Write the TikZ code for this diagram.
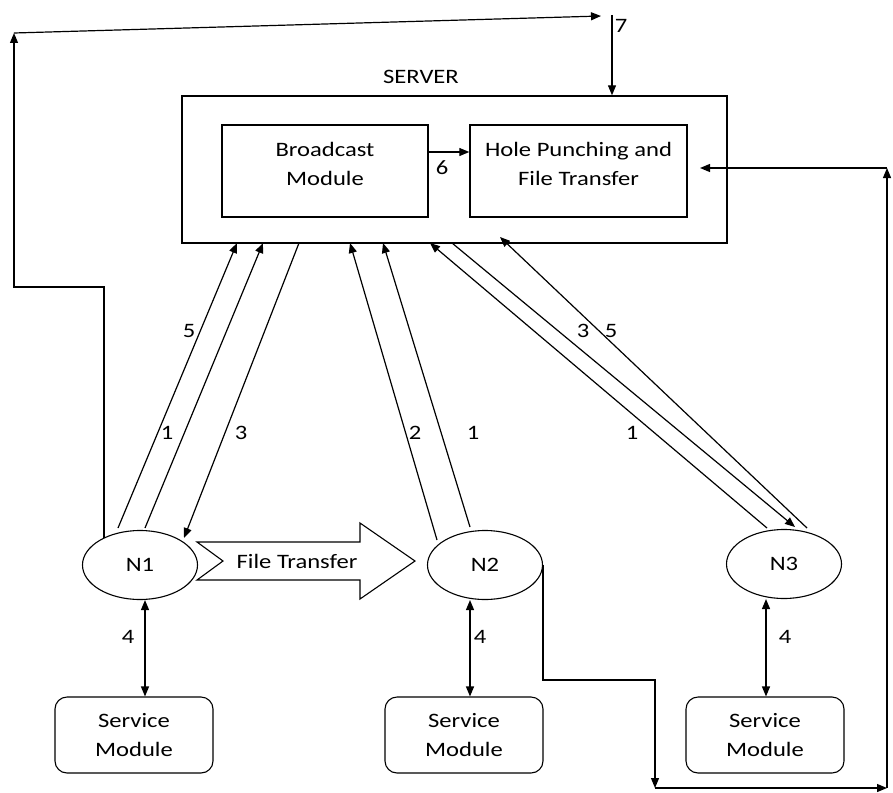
\documentclass[tikz,border=0pt]{standalone}
\usepackage{fontspec}
\setmainfont{Carlito}[FakeStretch=1.2]
\usetikzlibrary{arrows.meta,shapes.geometric}
\begin{document}
\begin{tikzpicture}[x=1pt,y=-1pt,
  txt/.style={font=\fontsize{20.5}{29}\selectfont, inner sep=0pt, align=center},
  box/.style={draw, line width=1.4pt, inner sep=0pt},
  svc/.style={draw, line width=1.1pt, rounded corners=12pt, minimum width=158pt, minimum height=76pt, inner sep=0pt, txt},
  nd/.style={draw, ellipse, line width=1.1pt, minimum width=115pt, minimum height=69pt, inner sep=0pt, txt},
  conn/.style={line width=1.2pt, -{Triangle[length=10pt,width=8pt]}},
  dconn/.style={line width=1.3pt, {Triangle[length=10pt,width=8pt]}-{Triangle[length=10pt,width=8pt]}},
  lbl/.style={txt}
]
\useasboundingbox (0,0) rectangle (893,792);
% server
\node[box, minimum width=545pt, minimum height=147pt] (server) at (454.5,169.5) {};
\node[lbl] (serverlbl) at (421,77) {SERVER};
\node[box, minimum width=206pt, minimum height=92pt] (bcast) at (325,171) {};
\node[lbl] (bcasttxt) at (325,164) {Broadcast\\Module};
\node[box, minimum width=217pt, minimum height=92pt] (hole) at (578.5,171) {};
\node[lbl] (holetxt) at (578.5,164) {Hole Punching and\\File Transfer};
\draw[conn] (bcast.east |- 0,152) -- (hole.west |- 0,152);
\node[lbl] (l6) at (442,168) {6};
% peers
\node[nd] (n1) at (140,565) {N1};
\node[nd] (n2) at (485,565) {N2};
\node[nd] (n3) at (784,564) {N3};
% service modules
\node[svc] (sm1) at (134,735) {Service\\Module};
\node[svc] (sm2) at (464,735) {Service\\Module};
\node[svc] (sm3) at (765,735) {Service\\Module};
\draw[dconn] (n1.south -| 145,0) -- (sm1.north -| 145,0);
\draw[dconn] (n2.south -| 470,0) -- (sm2.north -| 470,0);
\draw[dconn] (n3.south -| 766,0) -- (sm3.north -| 766,0);
\node[lbl] (l4a) at (128,637) {4};
\node[lbl] (l4b) at (480,637) {4};
\node[lbl] (l4c) at (785,637) {4};
% file transfer arrow
\draw[line width=1.1pt] (197,542) -- (360,542) -- (360,523) -- (415,561) -- (360,599) -- (360,580) -- (197,580) -- (223,561) -- cycle;
\node[lbl] (ft) at (297,561) {File Transfer};
% endpoints
\coordinate (a1) at (118,528); \coordinate (a2) at (237,243);
\coordinate (b1) at (145,528); \coordinate (b2) at (263,243);
\coordinate (c1) at (299,243); \coordinate (c2) at (184,538);
\coordinate (d1) at (437,540); \coordinate (d2) at (350,243);
\coordinate (e1) at (470,527); \coordinate (e2) at (383,243);
\coordinate (f1) at (767,528); \coordinate (f2) at (430,243);
\coordinate (g1) at (452,243); \coordinate (g2) at (795,527);
\coordinate (h1) at (807,528); \coordinate (h2) at (500,237);
\draw[conn] (a1) -- (a2);
\draw[conn] (b1) -- (b2);
\draw[conn] (c1) -- (c2);
\draw[conn] (d1) -- (d2);
\draw[conn] (e1) -- (e2);
\draw[conn] (f1) -- (f2);
\draw[conn] (g1) -- (g2);
\draw[conn] (h1) -- (h2);
\node[lbl] (l5a) at (189,331) {5};
\node[lbl] (l1a) at (167,433) {1};
\node[lbl] (l3a) at (241,433) {3};
\node[lbl] (l2b) at (415,433) {2};
\node[lbl] (l1b) at (473,433) {1};
\node[lbl] (l1c) at (632,433) {1};
\node[lbl] (l3c) at (583,331) {3};
\node[lbl] (l5c) at (611,331) {5};
% left loop to top
\coordinate (p1) at (104,538);
\coordinate (p2) at (14,33);
\coordinate (p3) at (601,16);
\draw[conn] (p1) -- (104,287) -- (14,287) -- (p2);
\draw[conn] (p2) -- (p3);
\coordinate (q1) at (612,15);
\draw[conn] (q1) -- (q1 |- server.north);
\node[lbl] (l7) at (621,26) {7};
% right loop
\coordinate (r1) at (543,565);
\coordinate (r2) at (655,788);
\coordinate (r3) at (887,788);
\coordinate (r4) at (887,168);
\coordinate (r5) at (700,168);
\draw[conn] (r1) -- (543,680) -- (655,680) -- (r2);
\draw[conn] (r2) -- (r3);
\draw[conn] (r3) -- (r4);
\draw[conn] (r4) -- (r5);
\end{tikzpicture}
\end{document}
